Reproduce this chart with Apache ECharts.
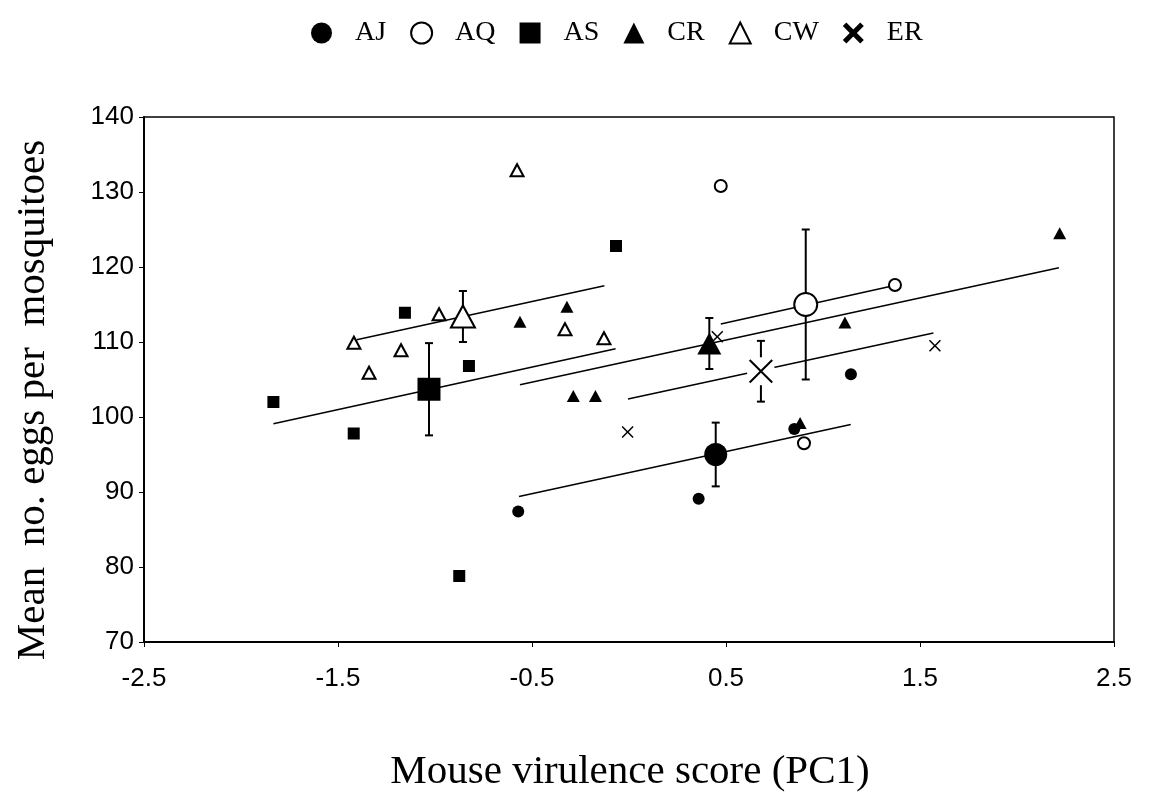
<!DOCTYPE html>
<html>
<head>
<meta charset="utf-8">
<script src="https://cdn.jsdelivr.net/npm/echarts@6/dist/echarts.min.js"></script>
<style>
html,body{margin:0;padding:0;background:#fff;}
#chart{width:1149px;height:796px;}
</style>
</head>
<body>
<div id="chart"></div>
<script>
// ---- Data ----
const groups = ['AJ', 'AQ', 'AS', 'CR', 'CW', 'ER'];

// individual points [PC1 score, mean eggs]
const AJ = [[-0.571, 87.4], [0.359, 89.1], [0.852, 98.4], [1.144, 105.7]];
const AQ = [[0.473, 130.8], [1.371, 117.6], [0.902, 96.5]];
const AS = [[-1.833, 102.0], [-1.419, 97.8], [-1.155, 113.9], [-0.875, 78.8], [-0.825, 106.8], [-0.067, 122.8]];
const CR = [[-0.562, 112.7], [-0.320, 114.7], [-0.287, 102.8], [-0.173, 102.8], [0.882, 99.2], [1.113, 112.6], [2.22, 124.5]];
const CW = [[-0.577, 132.9], [-0.979, 113.7], [-0.330, 111.7], [-0.129, 110.5], [-1.418, 109.9], [-1.175, 108.9], [-1.340, 105.9]];
const ER = [[-0.007, 98.0], [0.455, 110.7], [1.577, 109.5]];

// group means [x, y, error]
const meanAJ = [0.447, 95.0, 4.25];
const meanAQ = [0.911, 115.0, 10.0];
const meanAS = [-1.031, 103.7, 6.15];
const meanCR = [0.414, 109.8, 3.4];
const meanCW = [-0.856, 113.4, 3.4];
const meanER = [0.680, 106.1, 4.05];

// fitted lines (end points)
const fitAJ = [[-0.567, 89.4], [1.143, 99.0]];
const fitAQ = [[0.473, 112.4], [1.345, 117.4]];
const fitAS = [[-1.833, 99.1], [-0.069, 109.1]];
const fitCR = [[-0.562, 104.3], [2.216, 119.9]];
const fitCW = [[-1.404, 110.3], [-0.127, 117.5]];
const fitER = [[-0.005, 102.4], [1.569, 111.2]];

// axes
const xMin = -2.5, xMax = 2.5, xStep = 1;
const yMin = 70, yMax = 140, yStep = 10;

// ---- Styling ----
function xPath(a) {
  const p = [[a,0],[50,50-a],[100-a,0],[100,a],[50+a,50],[100,100-a],[100-a,100],[50,50+a],[a,100],[0,100-a],[50-a,50],[0,a]];
  return 'path://M' + p.map(q => q[0] + ',' + q[1]).join(' L') + ' Z';
}
const thinX = xPath(9);
const bigX = xPath(6);
const boldX = xPath(17);

const filled = {color: '#000', opacity: 1};
const open = {color: '#fff', borderColor: '#000', borderWidth: 2, opacity: 1};

const styles = {
  AJ: {sym: 'circle', size: 12, bigSize: 23, item: filled},
  AQ: {sym: 'circle', size: 12, bigSize: 23, item: open},
  AS: {sym: 'rect', size: 12, bigSize: 23, item: filled},
  CR: {sym: 'triangle', size: [13, 12], bigSize: [24, 22], item: filled},
  CW: {sym: 'triangle', size: [13, 12], bigSize: [24, 22], item: open},
  ER: {sym: thinX, size: 12, bigSym: bigX, bigSize: 24, item: filled}
};
const points = {AJ, AQ, AS, CR, CW, ER};
const means = {AJ: meanAJ, AQ: meanAQ, AS: meanAS, CR: meanCR, CW: meanCW, ER: meanER};
const fits = {AJ: fitAJ, AQ: fitAQ, AS: fitAS, CR: fitCR, CW: fitCW, ER: fitER};

const series = [];
// error bars
series.push({
  type: 'custom',
  name: 'err',
  z: 1,
  data: groups.map(g => means[g]),
  renderItem: function (params, api) {
    const x = api.value(0), y = api.value(1), e = api.value(2);
    const top = api.coord([x, y + e]);
    const bot = api.coord([x, y - e]);
    const cw = 4;
    const st = {stroke: '#000', lineWidth: 2};
    return {
      type: 'group',
      children: [
        {type: 'line', shape: {x1: top[0], y1: top[1], x2: bot[0], y2: bot[1]}, style: st},
        {type: 'line', shape: {x1: top[0]-cw, y1: top[1], x2: top[0]+cw, y2: top[1]}, style: st},
        {type: 'line', shape: {x1: bot[0]-cw, y1: bot[1], x2: bot[0]+cw, y2: bot[1]}, style: st}
      ]
    };
  },
  silent: true
});
// fitted lines
groups.forEach(g => {
  series.push({
    type: 'line', name: 'fit' + g, data: fits[g], z: 2,
    showSymbol: false, symbol: 'none',
    lineStyle: {color: '#000', width: 1.5, opacity: 1}, silent: true
  });
});
// white halo behind the big X
series.push({
  type: 'scatter', name: 'halo', z: 3,
  data: [meanER.slice(0, 2)], symbol: 'circle', symbolSize: 28,
  itemStyle: {color: '#fff', opacity: 1}, silent: true
});
// individual points
groups.forEach(g => {
  const s = styles[g];
  series.push({
    type: 'scatter', name: g, z: 4, data: points[g],
    symbol: s.sym, symbolSize: s.size, itemStyle: s.item
  });
});
// means
groups.forEach(g => {
  const s = styles[g];
  series.push({
    type: 'scatter', name: 'mean' + g, z: 5, data: [means[g].slice(0, 2)],
    symbol: s.bigSym || s.sym, symbolSize: s.bigSize, itemStyle: s.item
  });
});

const chart = echarts.init(document.getElementById('chart'), null, {renderer: 'canvas'});
chart.setOption({
  backgroundColor: '#fff',
  animation: false,
  legend: {
    left: 306, top: 14,
    itemWidth: 21, itemHeight: 21, itemGap: 24,
    textStyle: {fontFamily: 'Liberation Serif', fontSize: 28, color: '#000', padding: [0, 0, 0, 18]},
    data: [
      {name: 'AJ', icon: 'circle'},
      {name: 'AQ', icon: 'circle'},
      {name: 'AS', icon: 'rect'},
      {name: 'CR', icon: 'triangle'},
      {name: 'CW', icon: 'triangle'},
      {name: 'ER', icon: boldX}
    ],
    selectedMode: false
  },
  grid: {left: 144, right: 35, top: 117, bottom: 154, show: true, borderColor: '#000', borderWidth: 1.5, backgroundColor: '#fff'},
  xAxis: {
    type: 'value', min: xMin, max: xMax, interval: xStep,
    axisLine: {show: true, onZero: false, lineStyle: {color: '#000', width: 2}},
    axisTick: {show: true, inside: false, length: 5, lineStyle: {color: '#000', width: 1}},
    axisLabel: {color: '#000', fontFamily: 'Liberation Sans', fontSize: 26, margin: 24},
    splitLine: {show: false}
  },
  yAxis: {
    type: 'value', min: yMin, max: yMax, interval: yStep,
    axisLine: {show: true, onZero: false, lineStyle: {color: '#000', width: 2}},
    axisTick: {show: true, inside: false, length: 5, lineStyle: {color: '#000', width: 1}},
    axisLabel: {color: '#000', fontFamily: 'Liberation Sans', fontSize: 26, margin: 10},
    splitLine: {show: false}
  },
  graphic: [
    {type: 'text', x: 630, y: 772, style: {text: 'Mouse virulence score (PC1)', fontFamily: 'Liberation Serif', fontSize: 41, fill: '#000', textAlign: 'center', textVerticalAlign: 'middle'}},
    {type: 'text', x: 33, y: 400, rotation: Math.PI / 2, style: {text: 'Mean  no. eggs per  mosquitoes', fontFamily: 'Liberation Serif', fontSize: 41, fill: '#000', textAlign: 'center', textVerticalAlign: 'middle'}}
  ],
  series: series
});
</script>
</body>
</html>
